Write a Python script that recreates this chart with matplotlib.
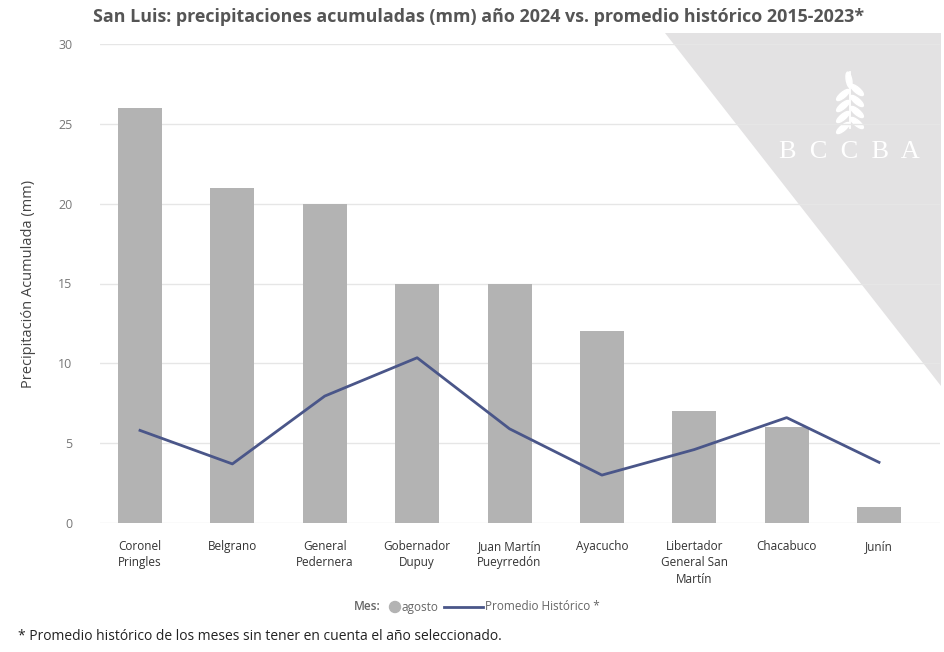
import matplotlib

matplotlib.use("Agg")
import matplotlib.pyplot as plt
from matplotlib.patches import Polygon, Ellipse, Circle

# datos
departamentos = [
    "Coronel\nPringles", "Belgrano", "General\nPedernera", "Gobernador\nDupuy",
    "Juan Martín\nPueyrredón", "Ayacucho", "Libertador\nGeneral San\nMartín",
    "Chacabuco", "Junín",
]
agosto_2024 = [26, 21, 20, 15, 15, 12, 7, 6, 1]
promedio_historico = [5.8, 3.7, 7.95, 10.35, 5.9, 3.0, 4.6, 6.6, 3.8]
yticks = [0, 5, 10, 15, 20, 25, 30]
serie_barras = "agosto"
serie_linea = "Promedio Histórico *"

BAR = "#b3b3b3"
LINE = "#4a5689"
W, H = 944, 652

plt.rcParams["font.family"] = ["Open Sans", "DejaVu Sans"]

fig = plt.figure(figsize=(W / 100, H / 100), dpi=100)

# capa de fondo en píxeles: triángulo gris con el logo y la leyenda
bg = fig.add_axes([0, 0, 1, 1], zorder=0)
bg.set_xlim(0, W)
bg.set_ylim(H, 0)
bg.axis("off")
bg.add_patch(Polygon([(665, 33), (941, 33), (941, 386)], closed=True,
                     facecolor="#e3e2e3", edgecolor="none"))
bg.plot([850, 850], [72, 128], color="white", lw=1.3)
for dy in (0, 11, 22, 33):
    bg.add_patch(Ellipse((843, 95 + dy), 16, 5.5, angle=-40, color="white"))
    bg.add_patch(Ellipse((857, 90 + dy), 16, 5.5, angle=40, color="white"))
bg.add_patch(Ellipse((849, 80), 5.5, 16, angle=-10, color="white"))
bg.text(849, 152, "B  C  C  B  A", color="white", fontsize=19, ha="center",
        va="center", family="Liberation Serif")

# leyenda
bg.text(354, 607, "Mes:", ha="left", va="center", fontsize=8.5,
        color="#666666", fontweight="semibold")
bg.add_patch(Circle((395, 607), 5.5, color=BAR))
bg.text(402, 607, serie_barras, ha="left", va="center", fontsize=8.5,
        color="#666666")
bg.plot([444, 483], [607, 607], color=LINE, lw=2)
bg.text(485, 607, serie_linea, ha="left", va="center", fontsize=8.5,
        color="#666666")

ax = fig.add_axes([100 / W, 1 - 523 / H, 840 / W, (523 - 44) / H], zorder=1)
ax.patch.set_alpha(0)
x = range(len(departamentos))
ax.bar(x, agosto_2024, width=0.476, color=BAR, zorder=2)
ax.plot(x, promedio_historico, color=LINE, lw=2, zorder=3)

ax.set_xlim(-0.433, 8.66)
ax.set_ylim(0, 30)
ax.set_yticks(yticks)
ax.grid(axis="y", color="#e6e6e6", lw=1, zorder=0)
for s in ax.spines.values():
    s.set_visible(False)
ax.tick_params(axis="both", length=0)
ax.tick_params(axis="y", labelsize=9, labelcolor="#777777", pad=20)
ax.set_xticks(list(x))
ax.set_xticklabels(departamentos, fontsize=8.5, color="#333333",
                   linespacing=1.35, va="top")
ax.tick_params(axis="x", pad=12)
ax.set_ylabel("Precipitación Acumulada (mm)", fontsize=10.5, color="#444444")
ax.yaxis.set_label_coords(-0.076, 0.5)

fig.text(479 / W, 1 - 17 / H,
         "San Luis: precipitaciones acumuladas (mm) año 2024 vs. promedio histórico 2015-2023*",
         ha="center", va="center", fontsize=12.9, fontweight="bold",
         color="#555555")

fig.text(18 / W, 1 - 637 / H,
         "* Promedio histórico de los meses sin tener en cuenta el año seleccionado.",
         ha="left", va="center", fontsize=10, color="#222222")

fig.savefig("out.png", dpi=100)
